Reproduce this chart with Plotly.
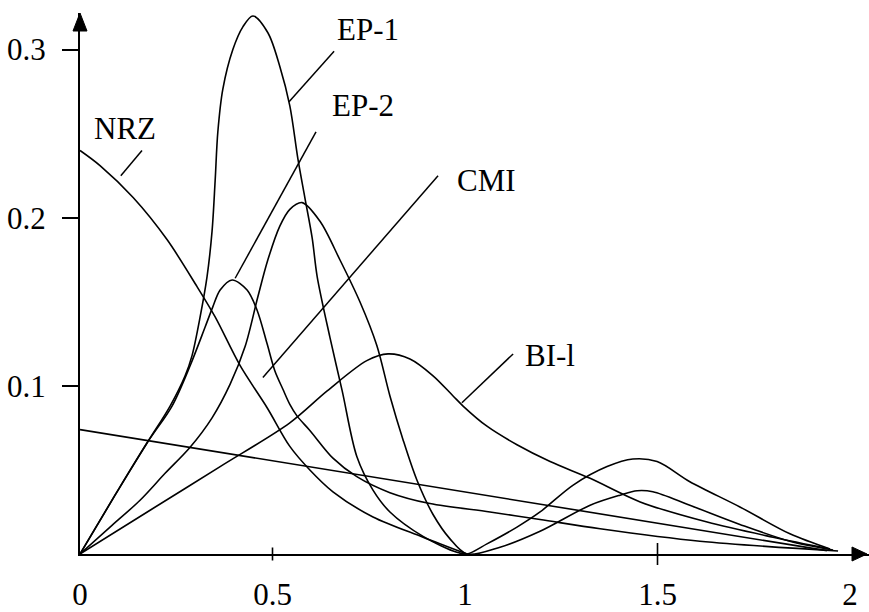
import plotly.graph_objects as go

# Normalised frequency (fT) and power spectral density for each line code
nrz_x = [0, 0.052, 0.138, 0.226, 0.304, 0.351, 0.416, 0.486, 0.545, 0.597, 0.657, 0.761, 0.891, 1.005]
nrz_y = [0.240, 0.231, 0.212, 0.187, 0.159, 0.141, 0.112, 0.087, 0.064, 0.050, 0.037, 0.022, 0.010, 0.0]

ep1_x = [0, 0.091, 0.174, 0.234, 0.273, 0.291, 0.312, 0.330, 0.343, 0.351, 0.358, 0.371, 0.397,
         0.423, 0.449, 0.488, 0.519, 0.545, 0.566, 0.584, 0.603, 0.616, 0.649, 0.681, 0.719,
         0.761, 0.805, 0.891, 0.979, 1.005, 1.057, 1.135, 1.195, 1.281, 1.369, 1.436, 1.499,
         1.584, 1.714, 1.844, 1.948]
ep1_y = [0, 0.035, 0.066, 0.088, 0.106, 0.118, 0.141, 0.165, 0.192, 0.222, 0.251, 0.2765, 0.300,
         0.3135, 0.320, 0.310, 0.290, 0.2665, 0.235, 0.212, 0.188, 0.165, 0.129, 0.097, 0.058,
         0.038, 0.025, 0.0105, 0.001, 0.0, 0.006, 0.016, 0.025, 0.041, 0.052, 0.0565, 0.055,
         0.043, 0.028, 0.012, 0.003]

ep2_x = [0, 0.091, 0.174, 0.239, 0.286, 0.325, 0.345, 0.364, 0.395, 0.434, 0.460, 0.486, 0.506,
         0.527, 0.545, 0.564, 0.597, 0.657, 0.719, 0.805, 0.909, 1.065, 1.195, 1.351, 1.610, 1.969]
ep2_y = [0, 0.035, 0.066, 0.088, 0.112, 0.135, 0.147, 0.157, 0.163, 0.157, 0.145, 0.125, 0.109,
         0.098, 0.089, 0.082, 0.0735, 0.057, 0.046, 0.0365, 0.030, 0.025, 0.0205, 0.015, 0.0076, 0.0018]

cmi_x = [0, 0.078, 0.156, 0.221, 0.286, 0.343, 0.390, 0.429, 0.462, 0.488, 0.519, 0.545, 0.577,
         0.623, 0.675, 0.727, 0.771, 0.805, 0.839, 0.875, 0.917, 0.961, 1.005, 1.091, 1.195,
         1.325, 1.403, 1.447, 1.488, 1.584, 1.714, 1.844, 1.956]
cmi_y = [0, 0.016, 0.032, 0.048, 0.0635, 0.081, 0.101, 0.1235, 0.153, 0.175, 0.195, 0.205, 0.209,
         0.198, 0.175, 0.150, 0.124, 0.094, 0.068, 0.044, 0.0235, 0.009, 0.0, 0.004, 0.0135,
         0.029, 0.035, 0.0376, 0.037, 0.029, 0.0176, 0.0076, 0.0024]

bil_x = [0, 0.182, 0.364, 0.545, 0.642, 0.745, 0.800, 0.857, 0.917, 0.969, 0.995, 1.057, 1.135,
         1.221, 1.325, 1.455, 1.629, 1.800, 1.948]
bil_y = [0, 0.026, 0.052, 0.078, 0.097, 0.115, 0.119, 0.116, 0.106, 0.094, 0.088, 0.076, 0.065,
         0.055, 0.045, 0.031, 0.019, 0.010, 0.003]

# unlabelled, nearly straight spectrum
flat_x = [0, 1.94]
flat_y = [0.074, 0.002]

x_ticks = [0, 0.5, 1, 1.5, 2]
x_tick_text = ["0", "0.5", "1", "1.5", "2"]
y_ticks = [0.1, 0.2, 0.3]
y_tick_text = ["0.1", "0.2", "0.3"]

series = [
    (nrz_x, nrz_y),
    (ep1_x, ep1_y),
    (ep2_x, ep2_y),
    (cmi_x, cmi_y),
    (bil_x, bil_y),
    (flat_x, flat_y),
]

FONT = "Liberation Serif, Times New Roman, serif"
INK = "black"

fig = go.Figure()
for xs, ys in series:
    fig.add_trace(go.Scatter(
        x=xs, y=ys, mode="lines",
        line=dict(color=INK, width=1.6, shape="spline", smoothing=0.9),
        hoverinfo="skip", showlegend=False,
    ))

# curve names with their leader lines: (text, text x, text y, leader start, leader end)
callouts = [
    ("NRZ", 0.117, 0.253, (0.161, 0.240), (0.106, 0.225)),
    ("EP-1", 0.748, 0.312, (0.660, 0.299), (0.543, 0.269)),
    ("EP-2", 0.735, 0.267, (0.613, 0.251), (0.403, 0.164)),
    ("CMI", 1.057, 0.222, (0.930, 0.225), (0.475, 0.105)),
    ("BI-l", 1.221, 0.118, (1.125, 0.119), (0.992, 0.090)),
]

shapes = []
annotations = []
for text, tx, ty, (x0, y0), (x1, y1) in callouts:
    annotations.append(dict(
        x=tx, y=ty, xref="x", yref="y", text=text, showarrow=False,
        font=dict(family=FONT, size=31, color=INK), xanchor="center", yanchor="middle",
    ))
    shapes.append(dict(type="line", xref="x", yref="y", x0=x0, y0=y0, x1=x1, y1=y1,
                       line=dict(color=INK, width=1.5)))

# arrow heads on both axes
shapes.append(dict(type="path", xref="paper", yref="paper", xsizemode="pixel", ysizemode="pixel",
                   xanchor=0, yanchor=1, path="M -7,-18 L 0,0 L 7,-18 Z",
                   fillcolor=INK, line=dict(color=INK, width=1)))
shapes.append(dict(type="path", xref="paper", yref="paper", xsizemode="pixel", ysizemode="pixel",
                   xanchor=1, yanchor=0, path="M -17,7 L -2,0 L -17,-7 Z",
                   fillcolor=INK, line=dict(color=INK, width=1)))

# small tick marks crossing the horizontal axis
for xv, half in [(0.5, 6.5), (1.5, 11)]:
    shapes.append(dict(type="line", xref="x", yref="paper", ysizemode="pixel", yanchor=0,
                       x0=xv, x1=xv, y0=-half, y1=half, line=dict(color=INK, width=1.6)))

fig.update_layout(
    width=869, height=612,
    margin=dict(l=80, r=0, t=13, b=52, pad=0),
    paper_bgcolor="white", plot_bgcolor="white",
    shapes=shapes, annotations=annotations,
    xaxis=dict(
        range=[0, 789 / 385], showgrid=False, zeroline=False,
        showline=True, linecolor=INK, linewidth=2,
        tickmode="array", tickvals=x_ticks, ticktext=x_tick_text, ticks="",
        ticklabelstandoff=12, tickfont=dict(family=FONT, size=31, color=INK),
    ),
    yaxis=dict(
        range=[0, 547 / 1700], showgrid=False, zeroline=False,
        showline=True, linecolor=INK, linewidth=2,
        tickmode="array", tickvals=y_ticks, ticktext=y_tick_text,
        ticks="outside", ticklen=16, tickwidth=1.8, tickcolor=INK,
        ticklabelstandoff=10, tickfont=dict(family=FONT, size=31, color=INK),
    ),
)

fig.write_html("out.html")
